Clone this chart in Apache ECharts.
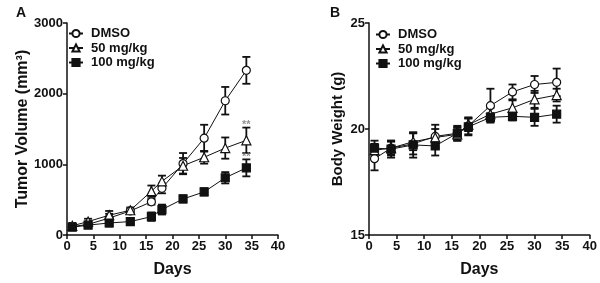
<!DOCTYPE html>
<html>
<head>
<meta charset="utf-8">
<script src="https://cdn.jsdelivr.net/npm/echarts@6/dist/echarts.min.js"></script>
<style>
html, body { margin: 0; background: #fff; }
#chart { width: 600px; height: 283px; }
</style>
</head>
<body>
<div id="chart"></div>
<script>
const days = [1, 4, 8, 12, 16, 18, 22, 26, 30, 34];
const groups = ["DMSO", "50 mg/kg", "100 mg/kg"];

// panel A: tumor volume (mm3), mean and SEM
const tumorDmso = [120, 150, 240, 340, 470, 660, 1010, 1370, 1900, 2330];
const tumorDmsoErr = [40, 40, 60, 30, 40, 70, 150, 190, 195, 190];
const tumor50 = [130, 190, 280, 350, 620, 760, 980, 1100, 1230, 1340];
const tumor50Err = [40, 40, 60, 40, 80, 80, 110, 90, 150, 180];
const tumor100 = [110, 140, 170, 190, 260, 360, 510, 610, 810, 950];
const tumor100Err = [40, 30, 50, 30, 60, 70, 50, 50, 80, 120];
// "**" marks at day 34
const starMarks = [[34, 1560], [34, 1110]];

// panel B: body weight (g)
const bwDmso = [18.6, 19.1, 19.3, 19.65, 19.8, 20.15, 21.1, 21.75, 22.1, 22.2];
const bwDmsoErr = [0.55, 0.35, 0.5, 0.55, 0.35, 0.4, 0.8, 0.35, 0.4, 0.65];
const bw50 = [19.0, 19.1, 19.4, 19.6, 19.75, 20.2, 20.7, 21.0, 21.4, 21.6];
const bw50Err = [0.3, 0.3, 0.4, 0.4, 0.3, 0.3, 0.3, 0.35, 0.4, 0.3];
const bw100 = [19.1, 19.05, 19.25, 19.2, 19.8, 20.1, 20.55, 20.6, 20.55, 20.7];
const bw100Err = [0.35, 0.4, 0.6, 0.45, 0.3, 0.4, 0.2, 0.2, 0.4, 0.4];

const font = "'Liberation Sans', Arial, sans-serif";
const ink = "#111";

const symbols = [
    { symbol: "circle", color: "#fff" },
    { symbol: "triangle", color: "#fff" },
    { symbol: "rect", color: ink },
];

function errorItem(params, api) {
    const x = api.value(0);
    const m = api.value(1);
    const e = api.value(2);
    const hi = api.coord([x, m + e]);
    const lo = api.coord([x, m - e]);
    const w = 4;
    const style = { stroke: ink, lineWidth: 1.8 };
    return {
        type: "group",
        children: [
            { type: "line", shape: { x1: hi[0], y1: hi[1], x2: lo[0], y2: lo[1] }, style },
            { type: "line", shape: { x1: hi[0] - w, y1: hi[1], x2: hi[0] + w, y2: hi[1] }, style },
            { type: "line", shape: { x1: lo[0] - w, y1: lo[1], x2: lo[0] + w, y2: lo[1] }, style },
        ],
    };
}

function makeSeries(idx, means, errs) {
    const out = [];
    means.forEach((m, g) => {
        out.push({
            type: "custom",
            xAxisIndex: idx,
            yAxisIndex: idx,
            renderItem: errorItem,
            encode: { x: 0, y: 1 },
            z: 2,
            silent: true,
            data: days.map((d, i) => [d, m[i], errs[g][i]]),
        });
        out.push({
            name: groups[g],
            type: "line",
            xAxisIndex: idx,
            yAxisIndex: idx,
            symbol: symbols[g].symbol,
            symbolSize: g === 1 ? 9 : 8,
            showAllSymbol: true,
            lineStyle: { color: ink, width: 1 },
            itemStyle: { color: symbols[g].color, borderColor: ink, borderWidth: 1.2 },
            z: 3,
            data: days.map((d, i) => [d, m[i]]),
        });
    });
    return out;
}

function xAxis(idx) {
    return {
        gridIndex: idx,
        type: "value",
        min: 0,
        max: 40,
        interval: 5,
        name: "Days",
        nameLocation: "middle",
        nameGap: 27,
        nameTextStyle: { fontFamily: font, fontWeight: "bold", fontSize: 16, color: ink },
        axisLine: { lineStyle: { color: ink, width: 1.5 } },
        axisTick: { length: 4, lineStyle: { color: ink, width: 1.5 } },
        axisLabel: { fontFamily: font, fontWeight: "bold", fontSize: 13, color: ink, margin: 5 },
        splitLine: { show: false },
    };
}

function yAxis(idx, min, max, interval, name, fontSize, gap) {
    return {
        gridIndex: idx,
        type: "value",
        min,
        max,
        interval,
        name,
        nameLocation: "middle",
        nameGap: gap,
        nameTextStyle: { fontFamily: font, fontWeight: "bold", fontSize, color: ink },
        axisLine: { show: true, lineStyle: { color: ink, width: 1.5 } },
        axisTick: { show: true, length: 4, lineStyle: { color: ink, width: 1.5 } },
        axisLabel: {
            fontFamily: font, fontWeight: "bold", fontSize: 13, color: ink, margin: 4,
            formatter: v => String(v),
        },
        splitLine: { show: false },
    };
}

function legend(left, top) {
    return {
        left,
        top,
        padding: 0,
        orient: "vertical",
        itemWidth: 14,
        itemHeight: 9,
        itemGap: 1.5,
        data: groups,
        selectedMode: false,
        textStyle: {
            fontFamily: font, fontWeight: "bold", fontSize: 13, color: ink,
            lineHeight: 13, padding: [0, 0, 0, 3],
        },
    };
}

const chart = echarts.init(document.getElementById("chart"));
chart.setOption({
    animation: false,
    backgroundColor: "#fff",
    title: [
        { text: "A", left: 11, top: 1, textStyle: { fontFamily: font, fontWeight: "bold", fontSize: 14, color: ink } },
        { text: "B", left: 325, top: 1, textStyle: { fontFamily: font, fontWeight: "bold", fontSize: 14, color: ink } },
    ],
    legend: [legend(68, 27), legend(375, 28)],
    grid: [
        { left: 67, right: 322, top: 23, bottom: 45 },
        { left: 369, right: 10, top: 23, bottom: 45 },
    ],
    xAxis: [xAxis(0), xAxis(1)],
    yAxis: [
        yAxis(0, 0, 3000, 1000, "Tumor Volume (mm³)", 16, 36),
        yAxis(1, 15, 25, 5, "Body Weight (g)", 15, 24),
    ],
    series: [
        ...makeSeries(0, [tumorDmso, tumor50, tumor100], [tumorDmsoErr, tumor50Err, tumor100Err]),
        ...makeSeries(1, [bwDmso, bw50, bw100], [bwDmsoErr, bw50Err, bw100Err]),
        {
            type: "scatter",
            xAxisIndex: 0,
            yAxisIndex: 0,
            symbolSize: 0,
            silent: true,
            z: 4,
            label: {
                show: true,
                position: "inside",
                formatter: "**",
                fontFamily: font,
                fontWeight: "bold",
                fontSize: 11,
                color: "#777",
            },
            data: starMarks,
        },
    ],
});
</script>
</body>
</html>
